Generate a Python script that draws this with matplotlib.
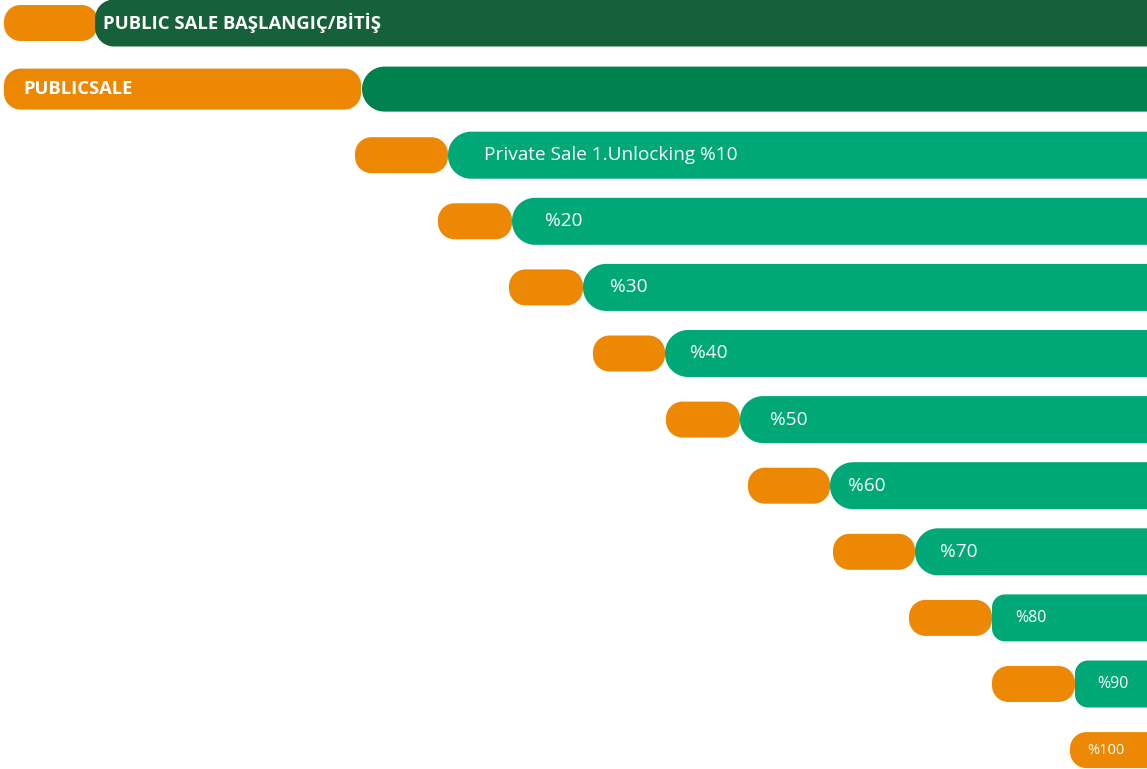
import numpy as np
import matplotlib.pyplot as plt
from matplotlib.patches import Polygon

# Timeline rows (x values are on the chart's own 0..1147 scale)
labels = ["PUBLIC SALE BAŞLANGIÇ/BİTİŞ", "PUBLICSALE", "Private Sale 1.Unlocking %10",
          "%20", "%30", "%40", "%50", "%60", "%70", "%80", "%90", "%100"]
orange_start = [4, 4, 355, 438, 509, 593, 666, 748, 833, 909, 992, 1070]
orange_end = [98, 361, 448, 512, 583, 665, 740, 830, 915, 992, 1075, 1175]
green_start = [95, 362, 448, 512, 583, 665, 740, 830, 915, 992, 1075, None]
green_end = [1175] * 11 + [None]

ORANGE = "#EC8804"
GREEN_DARK = "#17613A"
GREEN_MID = "#00814E"
GREEN = "#00A878"

# text gap from the start of the bar holding the label
label_pad = [8, 19, 36, 33, 27, 25, 30, 18, 25, 23, 22, 17]


def pill(ax, x0, x1, yc, h, color, r, z):
    # rounded rectangle with true circular corners
    r = min(r, h / 2, (x1 - x0) / 2)
    y0, y1 = yc - h / 2, yc + h / 2
    corners = [(x1 - r, y1 - r, 0), (x0 + r, y1 - r, 90),
               (x0 + r, y0 + r, 180), (x1 - r, y0 + r, 270)]
    pts = []
    for cx, cy, a0 in corners:
        t = np.radians(np.linspace(a0, a0 + 90, 16))
        pts += list(zip(cx + r * np.cos(t), cy + r * np.sin(t)))
    ax.add_patch(Polygon(pts, closed=True, facecolor=color,
                         edgecolor="none", zorder=z))


fig = plt.figure(figsize=(11.47, 7.69), dpi=100)
ax = fig.add_axes([0, 0, 1, 1])
ax.set_xlim(0, 1147)
ax.set_ylim(769, 0)
ax.axis("off")

font = "Open Sans"
for i, lab in enumerate(labels):
    yc = 23 + i * 66.1
    oh = 41 if i == 1 else 36
    pill(ax, orange_start[i], orange_end[i], yc, oh, ORANGE, 16.5, 2)
    if green_start[i] is not None:
        gcol = GREEN_DARK if i == 0 else (GREEN_MID if i == 1 else GREEN)
        gh = 45 if i == 1 else 47
        gr = 19 if i == 0 else (13 if i >= 9 else 23)
        pill(ax, green_start[i], green_end[i], yc, gh, gcol, gr, 3)

    if i == 0:
        tx, size, weight = green_start[i], 13.3, "bold"
    elif i in (1, 11):
        tx, size, weight = orange_start[i], 13.2, "bold"
        if i == 11:
            size, weight = 10.5, "normal"
    else:
        tx = green_start[i]
        size = 11.5 if i >= 9 else 13.7
        weight = "normal"
    ax.text(tx + label_pad[i], yc, lab, color="white", fontsize=size,
            fontweight=weight, family=font, va="center", ha="left", zorder=4)

fig.savefig("out.png", dpi=100)
